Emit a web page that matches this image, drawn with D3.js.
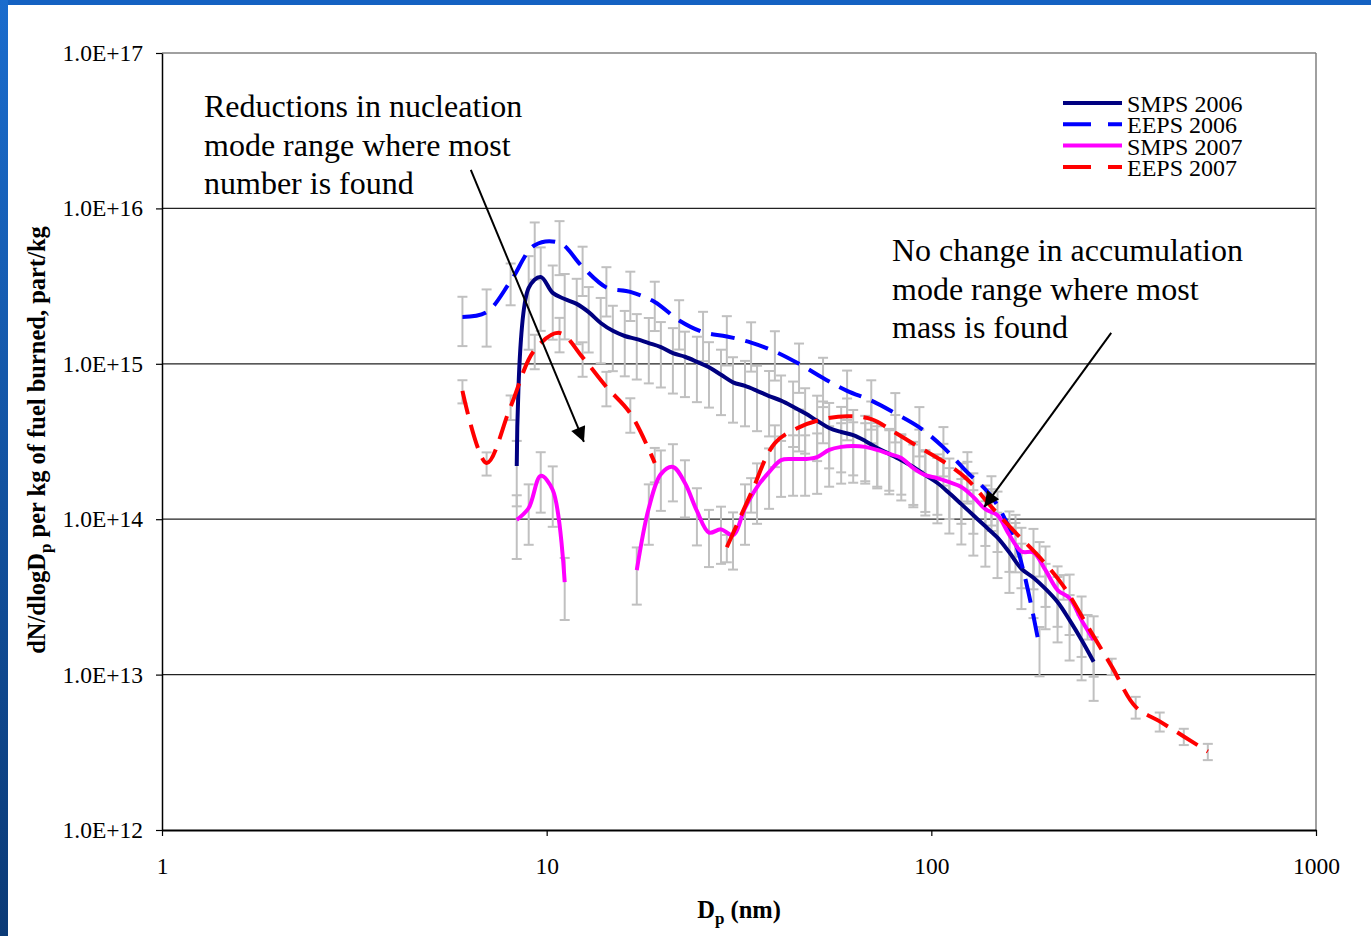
<!DOCTYPE html>
<html>
<head>
<meta charset="utf-8">
<script src="https://cdn.jsdelivr.net/npm/d3@7"></script>
<style>
body { margin: 0; background: #fff; }
text { font-family: "Liberation Serif", "Times New Roman", serif; }
</style>
</head>
<body>
<svg id="chart" width="1371" height="936"></svg>
<script>
// particle diameters (nm)
var smpsDp = [8.36, 8.98, 9.65, 10.37, 11.14, 11.97, 12.86, 13.82, 14.86, 15.96, 17.15, 18.43, 19.81, 21.29, 22.88, 24.58,
    26.42, 28.39, 30.51, 32.78, 35.23, 37.86, 40.68, 43.71, 46.98, 50.48, 54.25, 58.29, 62.64, 67.32, 72.34, 77.74,
    83.54, 89.77, 96.47, 103.7, 111.4, 119.7, 128.6, 138.2, 148.6, 159.6, 171.5, 184.3, 198.1, 212.9, 228.8, 245.8, 264.2];
var eepsDp = [6.04, 6.98, 8.06, 9.31, 10.8, 12.4, 14.3, 16.5, 19.1, 22.1, 25.5, 29.4, 34.0, 39.2, 45.3, 52.3,
    60.4, 69.8, 80.6, 93.1, 107.5, 124.1, 143.3, 165.5, 191.1, 220.7, 254.8, 294.3, 339.8, 392.4, 453.2, 523.3];

// dN/dlogDp, part/kg
var smps2006 = [2.2e14, 3.08e15, 3.62e15, 2.86e15, 2.61e15, 2.43e15, 2.15e15, 1.83e15, 1.63e15, 1.51e15, 1.44e15, 1.36e15,
    1.28e15, 1.17e15, 1.11e15, 1.03e15, 9.5e14, 8.5e14, 7.6e14, 7.2e14, 6.7e14, 6.2e14, 5.8e14, 5.3e14, 4.8e14, 4.3e14,
    3.86e14, 3.64e14, 3.48e14, 3.19e14, 2.87e14, 2.63e14, 2.40e14, 2.17e14, 1.92e14, 1.71e14, 1.47e14, 1.25e14, 1.06e14,
    9.0e13, 7.6e13, 6.1e13, 4.8e13, 4.2e13, 3.56e13, 2.93e13, 2.24e13, 1.67e13, 1.21e13];
var smps2007 = [9.9e13, 1.18e14, 1.90e14, 1.54e14, 3.94e13, null, null, null, null, null, 4.7e13, 1.18e14, 1.95e14, 2.17e14,
    1.71e14, 1.13e14, 8.2e13, 8.6e13, 7.9e13, 1.18e14, 1.61e14, 2.01e14, 2.40e14, 2.44e14, 2.44e14, 2.51e14, 2.79e14,
    2.92e14, 2.96e14, 2.92e14, 2.79e14, 2.63e14, 2.48e14, 2.13e14, 1.92e14, 1.84e14, 1.73e14, 1.61e14, 1.39e14, 1.16e14,
    1.06e14, 7.9e13, 6.2e13, 6.1e13, 4.7e13, 3.5e13, 3.1e13, 2.24e13, 1.67e13];
var eeps2006 = [2.0e15, 2.15e15, 3.4e15, 5.8e15, 6.0e15, 4.2e15, 3.1e15, 2.9e15, 2.5e15, 1.9e15, 1.6e15, 1.5e15, 1.37e15,
    1.2e15, 1.0e15, 8.1e14, 6.7e14, 5.8e14, 4.8e14, 3.9e14, 2.9e14, 2.0e14, 1.4e14, 7.0e13, 1.5e13,
    null, null, null, null, null, null, null];
var eeps2007 = [6.7e14, 2.3e14, 5.3e14, 1.23e15, 1.58e15, 1.1e15, 7.1e14, 4.8e14, 2.3e14, null, null, 6.6e13, 1.47e14,
    3.09e14, 3.9e14, 4.4e14, 4.6e14, 4.4e14, 3.6e14, 2.9e14, 2.35e14, 1.8e14, 1.2e14, 8.2e13, 5.7e13, 3.7e13, 2.05e13,
    1.13e13, 6.2e12, 5.0e12, 4.0e12, 3.2e12];

// error bars, percent of value
var smps2006Err = [45, 60, 55, 50, 45, 45, 45, 45, 45, 45, 45, 45, 45, 45, 45, 45, 45, 45, 45, 45, 45, 45, 45, 45, 45,
    45, 45, 45, 45, 45, 45, 45, 45, 45, 45, 45, 45, 45, 45, 45, 45, 45, 45, 45, 45, 45, 45, 45, 44];
var smps2007Err = [44, 42, 42, 42, 43, 0, 0, 0, 0, 0, 40, 42, 42, 40, 40, 40, 40, 40, 40, 42, 42, 42, 42, 42, 42,
    42, 42, 42, 42, 42, 42, 42, 42, 42, 42, 42, 42, 42, 42, 42, 42, 42, 42, 42, 42, 42, 42, 42, 42];
var eeps2006Err = [35, 40, 30, 40, 38, 35, 35, 35, 35, 35, 35, 35, 35, 35, 35, 35, 35, 35, 35, 35, 35, 35, 35, 35, 35,
    0, 0, 0, 0, 0, 0, 0];
var eeps2007Err = [17, 17, 18, 25, 25, 25, 25, 25, 25, 0, 0, 20, 25, 30, 30, 30, 30, 30, 30, 30, 30, 30, 30, 30, 25,
    18, 18, 12, 16, 14, 12, 12];

var yTicks = [1e12, 1e13, 1e14, 1e15, 1e16, 1e17];
var xTicks = [1, 10, 100, 1000];

var series = [
    { name: "SMPS 2006", dp: smpsDp, v: smps2006, err: smps2006Err, color: "#000080", dash: null },
    { name: "EEPS 2006", dp: eepsDp, v: eeps2006, err: eeps2006Err, color: "#0000FF", dash: "24,11" },
    { name: "SMPS 2007", dp: smpsDp, v: smps2007, err: smps2007Err, color: "#FF00FF", dash: null },
    { name: "EEPS 2007", dp: eepsDp, v: eeps2007, err: eeps2007Err, color: "#FF0000", dash: "24,11" }
];

var svg = d3.select("#chart");
var width = +svg.attr("width"), height = +svg.attr("height");
var plotL = 162, plotR = 1316, plotT = 53, plotB = 830;

var x = d3.scaleLog().domain([1, 1000]).range([plotL, plotR]);
var y = d3.scaleLog().domain([1e12, 1e17]).range([plotB, plotT]);

var defs = svg.append("defs");
var grad = defs.append("linearGradient").attr("id", "edge")
    .attr("x1", 0).attr("y1", 0).attr("x2", 0).attr("y2", 1);
grad.append("stop").attr("offset", "0%").attr("stop-color", "#1a6ccd");
grad.append("stop").attr("offset", "100%").attr("stop-color", "#0b3a76");
defs.append("marker").attr("id", "arrow")
    .attr("viewBox", "0 0 10 10").attr("refX", 10).attr("refY", 5)
    .attr("markerWidth", 18).attr("markerHeight", 15)
    .attr("markerUnits", "userSpaceOnUse").attr("orient", "auto")
    .append("path").attr("d", "M0,0L10,5L0,10z").attr("fill", "#000");

// slide background + frame
svg.append("rect").attr("width", width).attr("height", height).attr("fill", "#fff");
svg.append("rect").attr("width", width).attr("height", 5).attr("fill", "#1462c2");
svg.append("rect").attr("width", 8).attr("height", height).attr("fill", "url(#edge)");

// gridlines
svg.append("g").selectAll("line")
    .data([1e13, 1e14, 1e15, 1e16])
    .enter().append("line")
    .attr("x1", plotL).attr("x2", plotR)
    .attr("y1", function(d) { return y(d); }).attr("y2", function(d) { return y(d); })
    .attr("stroke", "#222").attr("stroke-width", 1.2);

// plot border top / right
svg.append("line").attr("x1", plotL).attr("x2", plotR).attr("y1", plotT).attr("y2", plotT)
    .attr("stroke", "#808080").attr("stroke-width", 1.5);
svg.append("line").attr("x1", plotR).attr("x2", plotR).attr("y1", plotT).attr("y2", plotB)
    .attr("stroke", "#808080").attr("stroke-width", 1.5);

// axes
var yAxis = svg.append("g")
    .attr("transform", "translate(" + plotL + ",0)")
    .call(d3.axisLeft(y).tickValues(yTicks)
        .tickFormat(function(d) { return "1.0E+" + Math.round(Math.log10(d)); })
        .tickSize(6).tickSizeOuter(0).tickPadding(13));
var xAxis = svg.append("g")
    .attr("transform", "translate(0," + plotB + ")")
    .call(d3.axisBottom(x).tickValues(xTicks).tickFormat(d3.format("d"))
        .tickSize(6).tickSizeOuter(0).tickPadding(21));
svg.selectAll(".tick text")
    .attr("fill", "#000")
    .style("font-family", '"Liberation Serif", "Times New Roman", serif')
    .style("font-size", "23.5px");
yAxis.select(".domain").attr("stroke", "#000").attr("stroke-width", 1.5);
xAxis.select(".domain").attr("stroke", "#000").attr("stroke-width", 2);
svg.selectAll(".tick line").attr("stroke", "#000").attr("stroke-width", 1.2);

// error bars
series.forEach(function(s) {
    var pts = s.dp.map(function(dp, i) { return { dp: dp, v: s.v[i], e: s.v[i] * s.err[i] / 100 }; })
        .filter(function(d) { return d.v != null; });
    var g = svg.append("g").attr("class", "err")
        .attr("stroke", "#c0c0c0").attr("stroke-width", 2);
    var bar = g.selectAll("g").data(pts).enter().append("g");
    bar.append("line")
        .attr("x1", function(d) { return x(d.dp); }).attr("x2", function(d) { return x(d.dp); })
        .attr("y1", function(d) { return y(d.v + d.e); }).attr("y2", function(d) { return y(d.v - d.e); });
    bar.append("line")
        .attr("x1", function(d) { return x(d.dp) - 5; }).attr("x2", function(d) { return x(d.dp) + 5; })
        .attr("y1", function(d) { return y(d.v + d.e); }).attr("y2", function(d) { return y(d.v + d.e); });
    bar.append("line")
        .attr("x1", function(d) { return x(d.dp) - 5; }).attr("x2", function(d) { return x(d.dp) + 5; })
        .attr("y1", function(d) { return y(d.v - d.e); }).attr("y2", function(d) { return y(d.v - d.e); });
});

// series lines
var line = d3.line()
    .defined(function(d) { return d.v != null; })
    .x(function(d) { return x(d.dp); })
    .y(function(d) { return y(d.v); })
    .curve(d3.curveCatmullRom.alpha(0.5));

series.forEach(function(s) {
    var pts = s.dp.map(function(dp, i) { return { dp: dp, v: s.v[i] }; });
    svg.append("path")
        .datum(pts)
        .attr("d", line)
        .attr("fill", "none")
        .attr("stroke", s.color)
        .attr("stroke-width", 4)
        .attr("stroke-dasharray", s.dash);
});

// legend
var legend = svg.append("g").attr("transform", "translate(1063,103)");
var item = legend.selectAll("g").data(series).enter().append("g")
    .attr("transform", function(d, i) { return "translate(0," + (i * 21.3) + ")"; });
item.append("line")
    .attr("x1", 0).attr("x2", 59).attr("y1", 0).attr("y2", 0)
    .attr("stroke", function(d) { return d.color; })
    .attr("stroke-width", 4)
    .attr("stroke-dasharray", function(d) { return d.dash ? "28,17" : null; });
item.append("text")
    .attr("x", 64).attr("y", 9)
    .style("font-size", "24px")
    .text(function(d) { return d.name; });

// axis titles
var xt = svg.append("text")
    .attr("x", 739).attr("y", 918)
    .attr("text-anchor", "middle")
    .style("font-size", "24.5px").style("font-weight", "bold");
xt.append("tspan").text("D");
xt.append("tspan").attr("dy", 6).style("font-size", "17px").text("p");
xt.append("tspan").attr("dy", -6).text(" (nm)");

var yt = svg.append("text")
    .attr("transform", "translate(45,440) rotate(-90)")
    .attr("text-anchor", "middle")
    .style("font-size", "24.5px").style("font-weight", "bold");
yt.append("tspan").text("dN/dlogD");
yt.append("tspan").attr("dy", 6).style("font-size", "17px").text("p");
yt.append("tspan").attr("dy", -6).text(" per kg of fuel burned, part/kg");

// annotations
var notes = [
    { x: 204, y: 117, lines: ["Reductions in nucleation", "mode range where most", "number is found"] },
    { x: 892, y: 261, lines: ["No change in accumulation", "mode range where most", "mass is found"] }
];
notes.forEach(function(n) {
    svg.append("g").selectAll("text").data(n.lines).enter().append("text")
        .attr("x", n.x).attr("y", function(d, i) { return n.y + i * 38.5; })
        .style("font-size", "32px")
        .text(function(d) { return d; });
});

var arrows = [
    { from: [6.35, 1.77e16], to: [12.5, 3.14e14] },
    { from: [293.5, 1.58e15], to: [137.3, 1.2e14] }
];
svg.append("g").selectAll("line").data(arrows).enter().append("line")
    .attr("x1", function(d) { return x(d.from[0]); }).attr("y1", function(d) { return y(d.from[1]); })
    .attr("x2", function(d) { return x(d.to[0]); }).attr("y2", function(d) { return y(d.to[1]); })
    .attr("stroke", "#000").attr("stroke-width", 2)
    .attr("marker-end", "url(#arrow)");
</script>
</body>
</html>
